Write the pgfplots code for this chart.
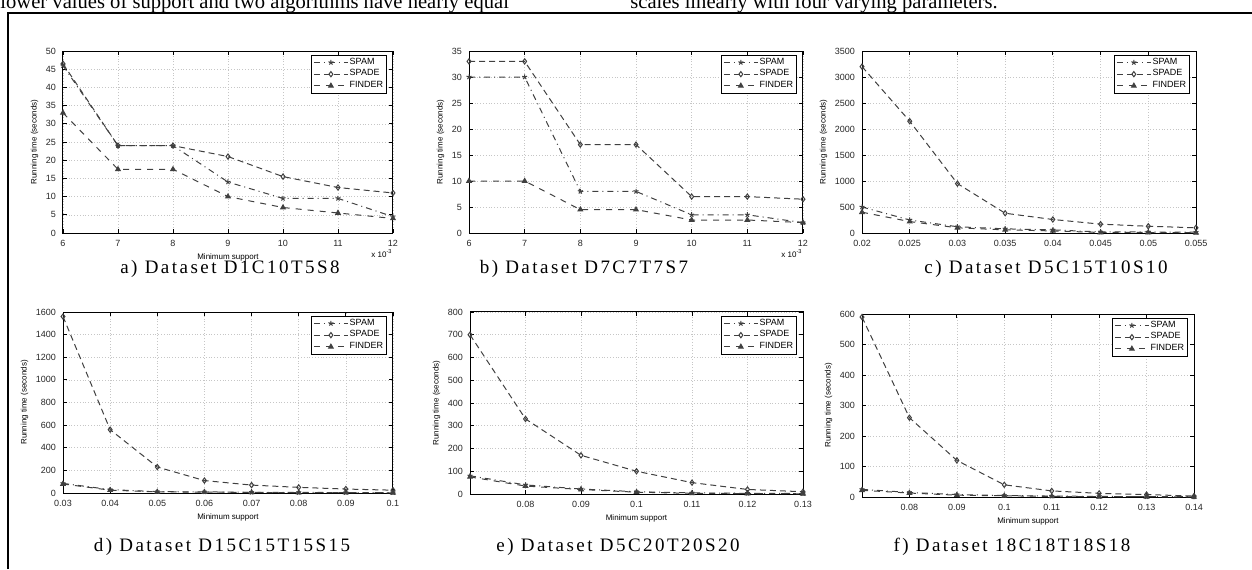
\documentclass[border=0pt]{standalone}
\usepackage{fontspec}
\setmainfont{Liberation Serif}
\newfontfamily\sansf{Liberation Sans}
\newfontfamily\capf[LetterSpace=13]{Liberation Serif}
\usepackage{pgfplots}
\pgfplotsset{compat=1.18}

\pgfplotsset{
  panel/.style={
    scale only axis, anchor=south west, clip=false,
    axis line style={black, line width=0.5pt},
    tick align=inside, major tick length=2pt,
    tick style={black, line width=0.4pt},
    scaled ticks=false,
    grid=major, grid style={gray!45, densely dotted, line width=0.3pt},
    ticklabel style={font=\sansf\fontsize{4.5}{5}\selectfont, text=black!85},
    label style={font=\sansf\fontsize{4}{5}\selectfont},
    /pgf/number format/assume math mode=true,
    /pgf/number format/1000 sep={},
    xlabel shift=-3pt, ylabel shift=-3pt,
    legend style={at={(0.98,0.98)}, anchor=north east,
      font=\sansf\fontsize{4.5}{5}\selectfont, draw=black, line width=0.4pt,
      inner sep=0.8pt, nodes={inner sep=0.6pt}},
    legend cell align=left,
    every axis plot/.append style={line width=0.5pt, black!75, mark size=1.3pt},
    ylabel={Running time (seconds)},
    ymin=0,
  },
  spade/.style={densely dashed, mark=diamond, mark options={solid}},
  spam/.style={dashdotted, mark=star, mark options={solid}},
  finder/.style={dashed, mark=triangle*, mark options={solid}},
}

\begin{document}
\begin{tikzpicture}
\useasboundingbox (0,0) rectangle (626pt,284.5pt);

% running text of the page, cut at the top
\node[anchor=base west, inner sep=0pt, font=\fontsize{10.3}{12}\selectfont] at (0,280pt)
  {lower values of support and two algorithms have nearly equal};
\node[anchor=base west, inner sep=0pt, font=\fontsize{10.3}{12}\selectfont] at (315pt,280pt)
  {scales linearly with four varying parameters.};
\draw[line width=1pt] (4pt,0) -- (4pt,278pt) -- (626pt,278pt);

% a)
\begin{axis}[panel, at={(31.5pt,168pt)}, width=165pt, height=91pt,
  xmin=6, xmax=12, ymax=50, xtick={6,...,12}, ytick={0,5,...,50},
  xlabel={Minimum support}]
\addplot[spam] coordinates {(6,46) (7,24) (8,24) (9,14) (10,9.5) (11,9.5) (12,4.5)};
\addlegendentry{SPAM}
\addplot[spade] coordinates {(6,46.5) (7,24) (8,24) (9,21) (10,15.5) (11,12.5) (12,11)};
\addlegendentry{SPADE}
\addplot[finder] coordinates {(6,33) (7,17.5) (8,17.5) (9,10) (10,7) (11,5.5) (12,4)};
\addlegendentry{FINDER}
\node[anchor=north east, font=\sansf\fontsize{4}{5}\selectfont, inner sep=0pt]
  at (rel axis cs:1,0) [yshift=-8pt] {x 10\textsuperscript{-3}};
\end{axis}

% b)
\begin{axis}[panel, at={(234.5pt,168pt)}, width=167pt, height=91pt,
  xmin=6, xmax=12, ymax=35, xtick={6,...,12}, ytick={0,5,...,35}]
\addplot[spam] coordinates {(6,30) (7,30) (8,8) (9,8) (10,3.5) (11,3.5) (12,2)};
\addlegendentry{SPAM}
\addplot[spade] coordinates {(6,33) (7,33) (8,17) (9,17) (10,7) (11,7) (12,6.5)};
\addlegendentry{SPADE}
\addplot[finder] coordinates {(6,10) (7,10) (8,4.5) (9,4.5) (10,2.5) (11,2.5) (12,2)};
\addlegendentry{FINDER}
\node[anchor=north east, font=\sansf\fontsize{4}{5}\selectfont, inner sep=0pt]
  at (rel axis cs:1,0) [yshift=-8pt] {x 10\textsuperscript{-3}};
\end{axis}

% c)
\begin{axis}[panel, at={(431pt,168pt)}, width=167pt, height=91pt,
  xmin=0.02, xmax=0.055, ymax=3500, ytick={0,500,...,3500},
  xtick={0.02,0.025,0.03,0.035,0.04,0.045,0.05,0.055},
  xticklabels={0.02,0.025,0.03,0.035,0.04,0.045,0.05,0.055}]
\addplot[spam] coordinates {(0.02,500) (0.025,250) (0.03,120) (0.035,80) (0.04,60) (0.045,20) (0.05,20) (0.055,15)};
\addlegendentry{SPAM}
\addplot[spade] coordinates {(0.02,3200) (0.025,2150) (0.03,950) (0.035,380) (0.04,260) (0.045,170) (0.05,130) (0.055,100)};
\addlegendentry{SPADE}
\addplot[finder] coordinates {(0.02,400) (0.025,220) (0.03,100) (0.035,60) (0.04,40) (0.045,10) (0.05,10) (0.055,5)};
\addlegendentry{FINDER}
\end{axis}

% d)
\begin{axis}[panel, at={(31.5pt,38pt)}, width=165pt, height=90.5pt,
  xmin=0.03, xmax=0.1, ymax=1600, ytick={0,200,...,1600},
  xtick={0.03,0.04,0.05,0.06,0.07,0.08,0.09,0.1},
  xticklabels={0.03,0.04,0.05,0.06,0.07,0.08,0.09,0.1},
  xlabel={Minimum support}]
\addplot[spam] coordinates {(0.03,85) (0.04,30) (0.05,12) (0.06,10) (0.07,6) (0.08,5) (0.09,4) (0.1,3)};
\addlegendentry{SPAM}
\addplot[spade] coordinates {(0.03,1560) (0.04,560) (0.05,230) (0.06,110) (0.07,70) (0.08,50) (0.09,35) (0.1,25)};
\addlegendentry{SPADE}
\addplot[finder] coordinates {(0.03,80) (0.04,25) (0.05,10) (0.06,8) (0.07,5) (0.08,3) (0.09,3) (0.1,2)};
\addlegendentry{FINDER}
\end{axis}

% e)
\begin{axis}[panel, at={(235pt,37.5pt)}, width=166.5pt, height=91pt,
  xmin=0.07, xmax=0.13, ymax=800, ytick={0,100,...,800},
  xtick={0.08,0.09,0.1,0.11,0.12,0.13},
  xticklabels={0.08,0.09,0.1,0.11,0.12,0.13},
  xlabel={Minimum support}]
\addplot[spam] coordinates {(0.07,80) (0.08,40) (0.09,22) (0.1,10) (0.11,5) (0.12,3) (0.13,2)};
\addlegendentry{SPAM}
\addplot[spade] coordinates {(0.07,700) (0.08,330) (0.09,170) (0.1,100) (0.11,50) (0.12,20) (0.13,10)};
\addlegendentry{SPADE}
\addplot[finder] coordinates {(0.07,75) (0.08,35) (0.09,20) (0.1,8) (0.11,3) (0.12,2) (0.13,1)};
\addlegendentry{FINDER}
\end{axis}

% f)
\begin{axis}[panel, at={(431pt,36pt)}, width=166pt, height=91.5pt,
  xmin=0.07, xmax=0.14, ymax=600, ytick={0,100,...,600},
  xtick={0.08,0.09,0.1,0.11,0.12,0.13,0.14},
  xticklabels={0.08,0.09,0.1,0.11,0.12,0.13,0.14},
  xlabel={Minimum support}]
\addplot[spam] coordinates {(0.07,25) (0.08,15) (0.09,8) (0.1,5) (0.11,3) (0.12,2) (0.13,1) (0.14,1)};
\addlegendentry{SPAM}
\addplot[spade] coordinates {(0.07,590) (0.08,260) (0.09,120) (0.1,40) (0.11,20) (0.12,12) (0.13,8) (0.14,3)};
\addlegendentry{SPADE}
\addplot[finder] coordinates {(0.07,22) (0.08,13) (0.09,6) (0.1,4) (0.11,2) (0.12,1) (0.13,1) (0.14,0.5)};
\addlegendentry{FINDER}
\end{axis}

% captions
\begin{scope}[every node/.style={font=\capf\fontsize{9.5}{11}\selectfont, inner sep=0pt}]
\node at (115pt,150pt) {a) Dataset D1C10T5S8};
\node at (292pt,150pt) {b) Dataset D7C7T7S7};
\node at (523pt,150pt) {c) Dataset D5C15T10S10};
\node at (111pt,11pt) {d) Dataset D15C15T15S15};
\node at (309pt,11pt) {e) Dataset D5C20T20S20};
\node at (506pt,11pt) {f) Dataset 18C18T18S18};
\end{scope}
\end{tikzpicture}
\end{document}
